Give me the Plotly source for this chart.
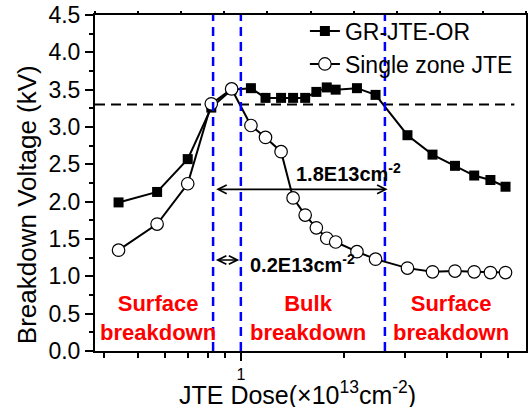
import plotly.graph_objects as go

# JTE dose (x10^13 cm^-2)
dose = [0.44, 0.57, 0.70, 0.82, 0.94, 1.07, 1.18, 1.31, 1.42, 1.54, 1.66,
        1.78, 1.89, 2.18, 2.47, 3.06, 3.62, 4.21, 4.79, 5.34, 5.91]
# Breakdown voltage (kV)
gr_jte_or = [1.99, 2.13, 2.57, 3.26, 3.50, 3.52, 3.39, 3.39, 3.39, 3.39, 3.47,
             3.53, 3.50, 3.52, 3.43, 2.89, 2.63, 2.48, 2.35, 2.29, 2.20]
single_zone = [1.35, 1.70, 2.24, 3.31, 3.51, 3.02, 2.86, 2.67, 2.05, 1.82, 1.65,
               1.51, 1.46, 1.33, 1.23, 1.11, 1.06, 1.07, 1.06, 1.05, 1.05]

ref_voltage = 3.3
boundaries = [0.83, 1.0, 2.63]
minor_x = [0.4, 0.5, 0.6, 0.7, 0.8, 0.9, 2, 3, 4, 5, 6]

FONT = "Liberation Sans, Arial, sans-serif"

fig = go.Figure()
fig.add_trace(go.Scatter(
    x=dose, y=gr_jte_or, mode="lines+markers", name="GR-JTE-OR",
    line=dict(color="black", width=2),
    marker=dict(symbol="square", size=10, color="black")))
fig.add_trace(go.Scatter(
    x=dose, y=single_zone, mode="lines+markers", name="Single zone JTE",
    line=dict(color="black", width=2),
    marker=dict(symbol="circle", size=12.5, color="white",
                line=dict(color="black", width=1.2))))
# dummy trace to realize the top (linear) axis
fig.add_trace(go.Scatter(x=[0, 10], y=[None, None], xaxis="x2",
                         showlegend=False, hoverinfo="skip"))

# horizontal reference
fig.add_shape(type="line", xref="paper", yref="y", x0=0, x1=0.973,
              y0=ref_voltage, y1=ref_voltage,
              line=dict(color="black", width=2, dash="10px,6px"), layer="below")
for b in boundaries:
    fig.add_shape(type="line", xref="x", yref="paper", x0=b, x1=b, y0=0, y1=1,
                  line=dict(color="#0000ff", width=2.5, dash="9px,6px"), layer="above")

# arrows
fig.add_annotation(xref="paper", yref="paper", axref="pixel", ayref="pixel",
                   x=0.679, y=0.4812, ax=-173, ay=0, text="",
                   showarrow=True, arrowhead=5, arrowside="end+start",
                   arrowsize=1, arrowwidth=1.7, arrowcolor="black")
fig.add_annotation(xref="paper", yref="paper", axref="pixel", ayref="pixel",
                   x=0.3349, y=0.2708, ax=-25, ay=0, text="",
                   showarrow=True, arrowhead=5, arrowside="end+start",
                   arrowsize=1, arrowwidth=1.7, arrowcolor="black")

fig.add_annotation(xref="paper", yref="paper", x=0.4619, y=0.5327,
                   xanchor="left", yanchor="middle", showarrow=False,
                   text="<b>1.8E13cm<sup>-2</sup></b>",
                   font=dict(size=20, color="black", family=FONT))
fig.add_annotation(xref="paper", yref="paper", x=0.354, y=0.2619,
                   xanchor="left", yanchor="middle", showarrow=False,
                   text="<b>0.2E13cm<sup>-2</sup></b>",
                   font=dict(size=20, color="black", family=FONT))

for xc, txt in [(0.1467, "Surface<br>breakdown"), (0.4942, "Bulk<br>breakdown"),
                (0.8261, "Surface<br>breakdown")]:
    fig.add_annotation(xref="paper", yref="paper", x=xc, y=0.0982,
                       xanchor="center", yanchor="middle", showarrow=False,
                       text="<b>" + txt + "</b>", align="center",
                       font=dict(size=22, color="red", family=FONT))

# axis titles
fig.add_annotation(xref="paper", yref="paper", x=-0.157, y=0.435,
                   textangle=-90, showarrow=False, xanchor="center", yanchor="middle",
                   text="Breakdown Voltage (kV)",
                   font=dict(size=26, color="black", family=FONT))
fig.add_annotation(xref="paper", yref="paper", x=0.4707, y=-0.126,
                   showarrow=False, xanchor="center", yanchor="middle",
                   text="JTE Dose(\u00d710<sup>13</sup>cm<sup>-2</sup>)",
                   font=dict(size=25, color="black", family=FONT))

fig.update_layout(
    width=530, height=407,
    margin=dict(l=95, r=2, t=15, b=56),
    paper_bgcolor="white", plot_bgcolor="white",
    font=dict(family=FONT, color="black"),
    showlegend=True,
    legend=dict(x=0.487, y=1.016, xanchor="left", yanchor="top",
                bgcolor="rgba(0,0,0,0)", font=dict(size=23, family=FONT),
                tracegroupgap=0),
    xaxis=dict(type="log", range=[-0.4252, 0.8313],
               tickvals=[1], ticktext=["1"], tickfont=dict(size=16),
               ticks="outside", ticklen=8, tickwidth=2, tickcolor="black",
               minor=dict(tickvals=minor_x, ticks="outside", ticklen=5,
                          tickwidth=2, tickcolor="black"),
               showline=True, linewidth=2, linecolor="black", mirror=True,
               showgrid=False, zeroline=False),
    xaxis2=dict(overlaying="x", side="top", range=[0, 10], dtick=1,
                ticks="outside", ticklen=3, tickwidth=1.5, tickcolor="black",
                showticklabels=False, showgrid=False, zeroline=False,
                showline=False),
    yaxis=dict(range=[0, 4.5], dtick=0.5, tickformat=".1f",
               tickfont=dict(size=23), ticks="outside", ticklen=8,
               tickwidth=2, tickcolor="black",
               minor=dict(dtick=0.25, ticks="outside", ticklen=4,
                          tickwidth=2, tickcolor="black"),
               showline=True, linewidth=2, linecolor="black", mirror=True,
               showgrid=False, zeroline=False),
)

fig.write_html("out.html")
